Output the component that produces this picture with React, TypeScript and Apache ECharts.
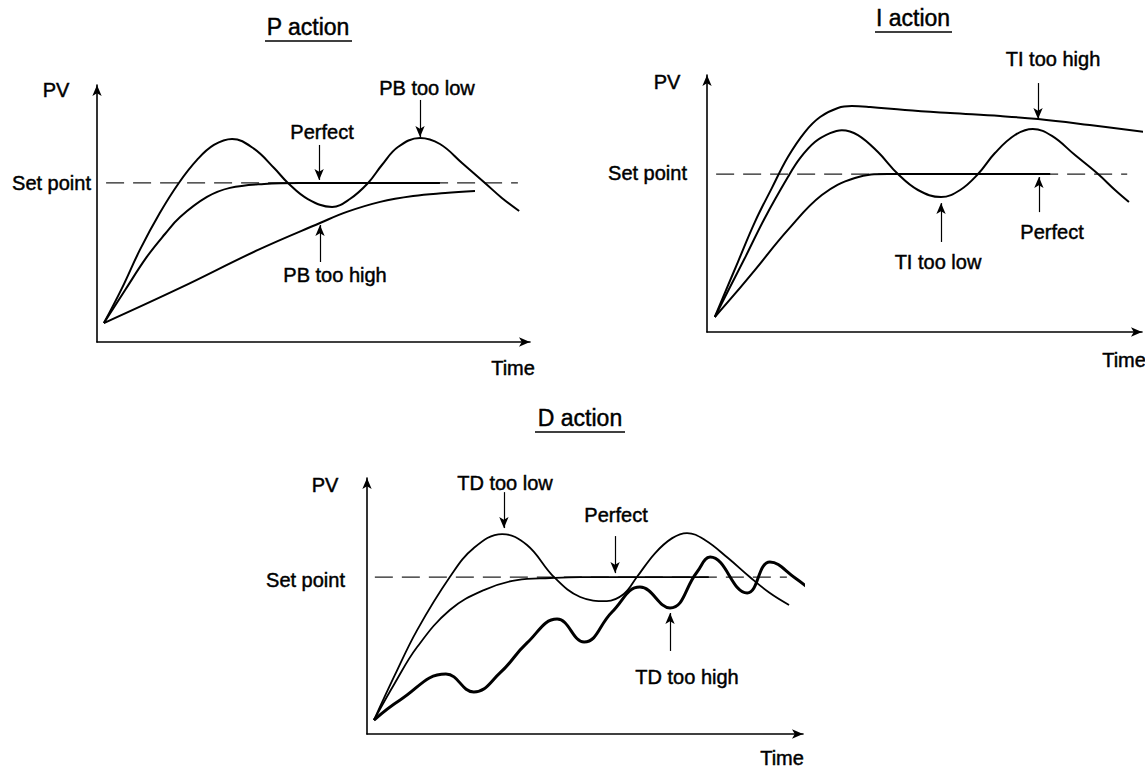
import React, { useEffect, useRef } from "react";
import * as echarts from "echarts";

const FONT = "'Liberation Sans', Arial, Helvetica, sans-serif";

const panelTitles = ["P action", "I action", "D action"];
const yAxisName = "PV";
const xAxisName = "Time";
const setPointName = "Set point";
const pLabels = ["PB too low", "Perfect", "PB too high"];
const iLabels = ["TI too high", "Perfect", "TI too low"];
const dLabels = ["TD too low", "Perfect", "TD too high"];

const xMax = [100, 100, 100];
const yMax = [161.6, 162.7, 163.1];

// ---- P action ----
const pTooLow = [[1.6, 11.9], [5.8, 34.0], [9.9, 57.9], [14.5, 81.1], [18.9, 100], [23.1, 114.5], [27.0, 123.9], [31.2, 127.7], [36.3, 121.4], [40.9, 109.4], [44.1, 100], [48.7, 89.9], [54.3, 84.9], [58.4, 89.9], [62.6, 100], [65.8, 111.3], [69.5, 122.6], [74.6, 128.3], [79.2, 124.5], [84.3, 112.6], [89.6, 100], [93.5, 90.6], [97.5, 82.4]];
const pPerfect = [[1.6, 11.9], [6.5, 32.7], [11.5, 53.5], [15.7, 67.9], [19.2, 78.6], [25.4, 91.2], [30.7, 96.9], [38.6, 99.4], [46.9, 100], [79.2, 100]];
const pTooHigh = [[1.6, 11.9], [19.2, 34.0], [37.2, 57.9], [51.5, 74.8], [57.7, 81.8], [65.4, 88.1], [73.0, 91.8], [80.4, 93.7], [87.3, 95.0]];
const pSetPoint = [[2.1, 100], [97.2, 100]];
const pArrows = [[[74.6, 152.2], [74.6, 128.9]], [[51.3, 123.9], [51.3, 101.9]], [[51.5, 50.3], [51.5, 73.6]]];

// ---- I action ----
const iTooHigh = [[1.8, 9.5], [4.4, 26.6], [7.1, 44.3], [11.0, 69.6], [14.9, 91.1], [18.6, 110.8], [22.5, 126.6], [26.0, 136.1], [30.1, 141.8], [33.3, 143.0], [37.5, 142.4], [45.5, 140.5], [55.9, 138.6], [67.4, 136.7], [76.1, 134.8], [88.0, 131.0], [100.7, 126.6]];
const iTooLow = [[1.8, 9.5], [5.3, 28.5], [8.7, 46.8], [13.3, 72.2], [18.6, 98.1], [21.4, 110.1], [24.8, 120.3], [28.3, 125.9], [31.0, 127.8], [34.7, 124.7], [39.3, 113.9], [43.9, 100], [48.5, 89.9], [53.8, 85.4], [58.2, 89.9], [62.3, 100], [66.2, 113.3], [70.8, 124.7], [74.9, 128.5], [79.3, 124.1], [84.6, 112.0], [89.9, 100], [93.8, 89.9], [97.0, 82.3]];
const iPerfect = [[1.8, 9.5], [6.4, 24.1], [11.0, 39.2], [18.6, 64.6], [26.4, 86.7], [34.0, 97.5], [41.6, 100], [78.9, 100]];
const iSetPoint = [[2.1, 100], [96.6, 100]];
const iArrows = [[[76.1, 157.6], [76.1, 134.8]], [[76.3, 75.9], [76.3, 98.1]], [[53.8, 57.0], [53.8, 81.6]]];

// ---- D action ----
const dTooLow = [[1.6, 8.9], [6.4, 37.6], [11.5, 66.2], [19.0, 100], [24.5, 118.5], [31.0, 127.4], [36.7, 120.4], [42.9, 100], [48.9, 87.3], [55.0, 84.7], [58.9, 89.2], [61.9, 100], [66.1, 115.3], [70.0, 124.8], [73.4, 128.0], [77.5, 123.6], [82.8, 112.1], [87.8, 100], [92.4, 89.8], [96.8, 82.2]];
const dPerfect = [[1.6, 8.9], [6.4, 32.5], [11.5, 55.4], [19.0, 79.0], [26.8, 91.7], [34.4, 98.1], [42.0, 99.4], [48.9, 100], [78.4, 100]];
const dTooHigh = [[1.6, 8.9], [7.6, 21.7], [18.1, 38.2], [24.5, 26.8], [30.5, 38.9], [36.7, 58.0], [43.6, 73.2], [49.8, 58.6], [56.2, 77.7], [62.6, 93.6], [69.5, 80.3], [75.7, 103.2], [78.7, 112.7], [87.2, 89.8], [92.4, 109.6], [98.2, 99.4], [103.2, 88.5]];
const dSetPoint = [[1.8, 100], [96.3, 100]];
const dArrows = [[[31.4, 154.1], [31.4, 131.2]], [[56.9, 126.1], [56.9, 102.5]], [[69.5, 52.9], [69.5, 77.1]]];

const grids = [
  { left: 97, top: 85, width: 433, height: 257 },
  { left: 707, top: 75, width: 435, height: 257 },
  { left: 367, top: 478, width: 436, height: 256 },
];

function curve(data: number[][], g: number, width: number, clip = true, smooth = 0.4) {
  return {
    type: "line",
    xAxisIndex: g,
    yAxisIndex: g,
    data,
    smooth,
    symbol: "none",
    showSymbol: false,
    silent: true,
    clip,
    z: 3,
    lineStyle: { color: "#000", width },
    emphasis: { disabled: true },
  };
}

function setPoint(data: number[][], g: number, arrows: number[][][]) {
  return {
    type: "line",
    xAxisIndex: g,
    yAxisIndex: g,
    data,
    symbol: "none",
    showSymbol: false,
    silent: true,
    z: 2,
    lineStyle: { color: "#222", width: 1.2, type: [18, 9] },
    emphasis: { disabled: true },
    markLine: {
      silent: true,
      symbol: ["none", "arrow"],
      symbolSize: [7, 11],
      label: { show: false },
      lineStyle: { color: "#000", width: 1.2, type: "solid" },
      emphasis: { disabled: true },
      animation: false,
      data: arrows.map((a) => [{ coord: a[0] }, { coord: a[1] }]),
    },
  };
}

function txt(text: string, x: number, y: number, size = 20, align = "center") {
  return {
    type: "text",
    x,
    y,
    silent: true,
    style: {
      text,
      fill: "#000",
      stroke: "#000",
      lineWidth: 0.45,
      font: `${size}px ${FONT}`,
      align,
      verticalAlign: "middle",
    },
  };
}

function underline(x1: number, x2: number, y: number) {
  return {
    type: "line",
    silent: true,
    shape: { x1, y1: y, x2, y2: y },
    style: { stroke: "#000", lineWidth: 1.6 },
  };
}

export default function App() {
  const ref = useRef<HTMLDivElement>(null);

  useEffect(() => {
    if (!ref.current) return;
    const chart = echarts.init(ref.current, null, { renderer: "svg" });
    const axisLine = {
      show: true,
      onZero: false,
      symbol: ["none", "arrow"],
      symbolSize: [7, 11],
      lineStyle: { color: "#000", width: 1.6 },
    };
    const option = {
      animation: false,
      backgroundColor: "#fff",
      grid: grids,
      xAxis: grids.map((_, i) => ({
        type: "value",
        gridIndex: i,
        min: 0,
        max: xMax[i],
        axisLine,
        axisTick: { show: false },
        axisLabel: { show: false },
        splitLine: { show: false },
      })),
      yAxis: grids.map((_, i) => ({
        type: "value",
        gridIndex: i,
        min: 0,
        max: yMax[i],
        axisLine,
        axisTick: { show: false },
        axisLabel: { show: false },
        splitLine: { show: false },
      })),
      series: [
        setPoint(pSetPoint, 0, pArrows),
        curve(pTooLow, 0, 2),
        curve(pPerfect, 0, 2),
        curve(pTooHigh, 0, 2),
        setPoint(iSetPoint, 1, iArrows),
        curve(iTooHigh, 1, 2, false),
        curve(iTooLow, 1, 2),
        curve(iPerfect, 1, 2),
        setPoint(dSetPoint, 2, dArrows),
        curve(dTooLow, 2, 1.8),
        curve(dPerfect, 2, 1.8),
        curve(dTooHigh, 2, 3, false, 0.45),
      ],
      graphic: [
        txt(panelTitles[0], 308, 27, 23),
        underline(265, 352, 41),
        txt(panelTitles[1], 913, 18, 23),
        underline(875, 952, 32),
        txt(panelTitles[2], 580, 418, 23),
        underline(535, 625, 432),
        // P
        txt(yAxisName, 56, 90),
        txt(setPointName, 91, 183, 20, "right"),
        txt(pLabels[0], 427, 88),
        txt(pLabels[1], 322, 132),
        txt(pLabels[2], 335, 275),
        txt(xAxisName, 513, 368),
        // I
        txt(yAxisName, 667, 82),
        txt(setPointName, 687, 173, 20, "right"),
        txt(iLabels[0], 1053, 59),
        txt(iLabels[1], 1052, 232),
        txt(iLabels[2], 938, 262),
        txt(xAxisName, 1124, 360),
        // D
        txt(yAxisName, 325, 485),
        txt(setPointName, 345, 580, 20, "right"),
        txt(dLabels[0], 505, 483),
        txt(dLabels[1], 616, 515),
        txt(dLabels[2], 687, 677),
        txt(xAxisName, 782, 758),
      ],
    };
    chart.setOption(option as any);
    return () => chart.dispose();
  }, []);

  return (
    <div
      ref={ref}
      style={{ position: "absolute", left: 0, top: 0, width: 1145, height: 771, background: "#fff" }}
    />
  );
}
